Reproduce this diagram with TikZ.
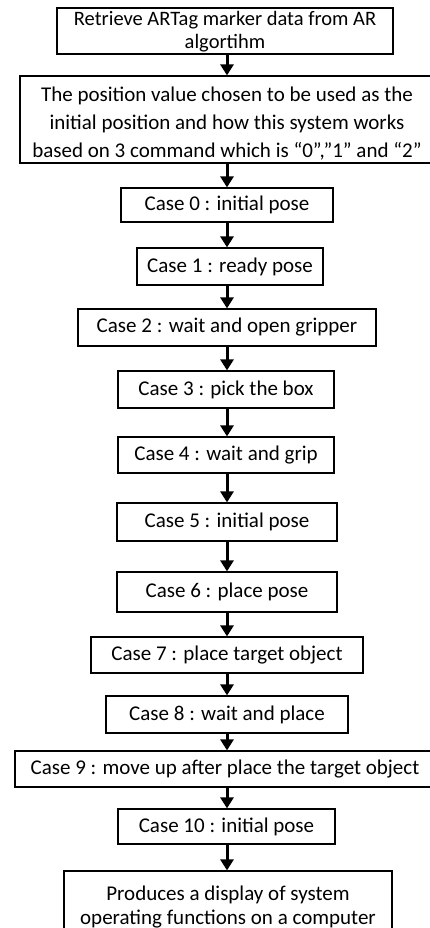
\documentclass[tikz,border=0pt]{standalone}
\usepackage{fontspec}
\setmainfont{Carlito}
\usetikzlibrary{arrows.meta}

\tikzset{
  stepbox/.style={draw=black, line width=1.2pt, fill=white, inner sep=0pt,
    align=center, font=\fontsize{21}{28}\selectfont},
  flow/.style={line width=3pt, -{Triangle[width=13pt,length=11pt]}}
}
% lower a block of centred lines without changing the box it sits in
\newcommand{\lowerlines}[2]{\raisebox{-#1}[\height][\depth]{\begin{tabular}{@{}c@{}}#2\end{tabular}}}

\begin{document}
\begin{tikzpicture}[x=1pt, y=-1pt]
  \useasboundingbox (0,0) rectangle (430,928);
  \clip (0,0) rectangle (430,928);
  \fill[white] (0,0) rectangle (430,928);

  % boxes, top to bottom
  \node[stepbox, minimum width=336pt, minimum height=44pt,
        font=\fontsize{20.5}{23}\selectfont] (b1) at (225,31)
    {\lowerlines{1.5pt}{Retrieve ARTag marker data from AR\\algortihm}};
  \node[stepbox, minimum width=414pt, minimum height=87pt] (b2) at (227,119.5)
    {\lowerlines{4pt}{The position value chosen to be used as the\\
      initial position and how this system works\\
      based on 3 command which is “0”,”1” and “2”}};
  \node[stepbox, minimum width=212pt, minimum height=34pt] (c0) at (227,205)
    {Case 0 : initial pose};
  \node[stepbox, minimum width=186pt, minimum height=37pt] (c1) at (230,266.5)
    {Case 1 : ready pose};
  \node[stepbox, minimum width=298pt, minimum height=37pt] (c2) at (227,327.5)
    {Case 2 : wait and open gripper};
  \node[stepbox, minimum width=216pt, minimum height=37pt] (c3) at (226,389.5)
    {Case 3 : pick the box};
  \node[stepbox, minimum width=216pt, minimum height=36pt] (c4) at (226,455)
    {Case 4 : wait and grip};
  \node[stepbox, minimum width=220pt, minimum height=38pt] (c5) at (227,522)
    {Case 5 : initial pose};
  \node[stepbox, minimum width=220pt, minimum height=40pt] (c6) at (227,592)
    {Case 6 : place pose};
  \node[stepbox, minimum width=272pt, minimum height=36pt] (c7) at (227,655)
    {Case 7 : place target object};
  \node[stepbox, minimum width=242pt, minimum height=37pt] (c8) at (227,714.5)
    {Case 8 : wait and place};
  \node[stepbox, minimum width=420pt, minimum height=36pt] (c9) at (225,769)
    {Case 9 : move up after place the target object};
  \node[stepbox, minimum width=217pt, minimum height=35pt] (c10) at (226.5,826.5)
    {Case 10 : initial pose};
  \node[stepbox, minimum width=328pt, minimum height=69pt,
        font=\fontsize{21}{24}\selectfont] (b3) at (228,905.5)
    {\lowerlines{2pt}{Produces a display of system\\operating functions on a computer}};

  % all connectors run down one common vertical line
  \coordinate (ax) at (227,0);
  \foreach \a/\b in {b1/b2, b2/c0, c0/c1, c1/c2, c2/c3, c3/c4, c4/c5,
                     c5/c6, c6/c7, c7/c8, c8/c9, c9/c10, c10/b3}
    \draw[flow] (\a.south -| ax) -- (\b.north -| ax);
\end{tikzpicture}
\end{document}
